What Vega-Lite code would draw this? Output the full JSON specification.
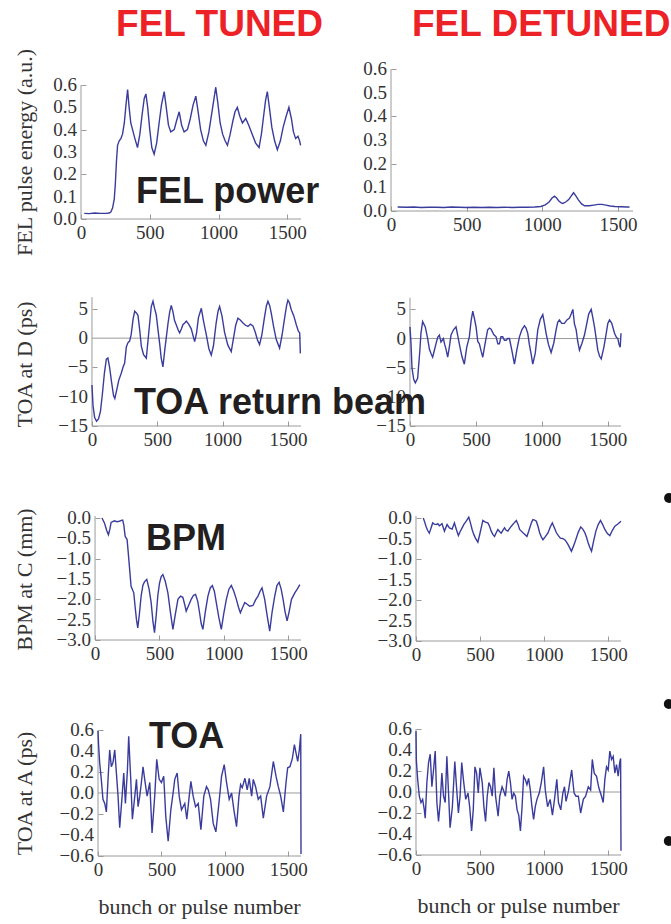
{
  "$schema": "https://vega.github.io/schema/vega-lite/v6.json",
  "background": "white",
  "padding": {"left": 12, "top": 5, "right": 0, "bottom": 4},
  "config": {
    "view": {"stroke": null},
    "axis": {
      "domain": false, "grid": false,
      "labelFont": "Liberation Serif", "labelFontSize": 19, "labelColor": "#333333",
      "titleFont": "Liberation Serif", "titleFontSize": 22, "titleFontWeight": "normal", "titleColor": "#333333",
      "tickColor": "#9a9a9a", "tickSize": -5, "labelPadding": 9, "labelFlush": false
    },
    "line": {"color": "#3a3c9d", "strokeWidth": 1.4},
    "rule": {"color": "#9a9a9a", "strokeWidth": 1},
    "text": {"font": "Liberation Sans", "fontWeight": "bold", "fontSize": 36, "color": "#231f20", "align": "left", "baseline": "alphabetic"}
  },
  "datasets": {
    "yl_fel": [{"v":0},{"v":0.1},{"v":0.2},{"v":0.3},{"v":0.4},{"v":0.5},{"v":0.6}],
    "yl_toad": [{"v":-15},{"v":-10},{"v":-5},{"v":0},{"v":5}],
    "yl_bpm": [{"v":-3},{"v":-2.5},{"v":-2},{"v":-1.5},{"v":-1},{"v":-0.5},{"v":0}],
    "yl_toaa": [{"v":-0.6},{"v":-0.4},{"v":-0.2},{"v":0},{"v":0.2},{"v":0.4},{"v":0.6}],
    "tl": [
      {"x":24,"y":0.025},{"x":60,"y":0.024},{"x":100,"y":0.027},{"x":140,"y":0.025},{"x":180,"y":0.025},{"x":206,"y":0.027},{"x":218,"y":0.032},{"x":230,"y":0.05},{"x":242,"y":0.09},{"x":250,"y":0.16},{"x":258,"y":0.26},{"x":266,"y":0.33},{"x":278,"y":0.35},{"x":290,"y":0.36},{"x":302,"y":0.38},{"x":315,"y":0.43},{"x":327,"y":0.51},{"x":339,"y":0.58},{"x":350,"y":0.5},{"x":362,"y":0.43},{"x":375,"y":0.4},{"x":392,"y":0.36},{"x":411,"y":0.32},{"x":428,"y":0.38},{"x":445,"y":0.47},{"x":460,"y":0.54},{"x":472,"y":0.56},{"x":485,"y":0.5},{"x":500,"y":0.4},{"x":515,"y":0.32},{"x":532,"y":0.29},{"x":550,"y":0.34},{"x":568,"y":0.43},{"x":585,"y":0.51},{"x":605,"y":0.57},{"x":620,"y":0.5},{"x":636,"y":0.42},{"x":653,"y":0.39},{"x":678,"y":0.4},{"x":695,"y":0.44},{"x":714,"y":0.48},{"x":732,"y":0.42},{"x":750,"y":0.39},{"x":774,"y":0.4},{"x":795,"y":0.45},{"x":815,"y":0.51},{"x":835,"y":0.55},{"x":852,"y":0.48},{"x":870,"y":0.4},{"x":890,"y":0.35},{"x":908,"y":0.33},{"x":930,"y":0.39},{"x":950,"y":0.47},{"x":965,"y":0.53},{"x":980,"y":0.59},{"x":995,"y":0.52},{"x":1012,"y":0.43},{"x":1030,"y":0.38},{"x":1048,"y":0.35},{"x":1065,"y":0.33},{"x":1085,"y":0.38},{"x":1105,"y":0.44},{"x":1120,"y":0.48},{"x":1137,"y":0.5},{"x":1155,"y":0.46},{"x":1174,"y":0.43},{"x":1198,"y":0.45},{"x":1220,"y":0.42},{"x":1245,"y":0.38},{"x":1270,"y":0.34},{"x":1295,"y":0.32},{"x":1312,"y":0.38},{"x":1328,"y":0.46},{"x":1342,"y":0.53},{"x":1355,"y":0.57},{"x":1370,"y":0.5},{"x":1388,"y":0.41},{"x":1408,"y":0.35},{"x":1428,"y":0.31},{"x":1450,"y":0.35},{"x":1470,"y":0.41},{"x":1492,"y":0.46},{"x":1512,"y":0.5},{"x":1530,"y":0.45},{"x":1545,"y":0.39},{"x":1561,"y":0.36},{"x":1578,"y":0.37},{"x":1590,"y":0.35},{"x":1597,"y":0.33}
    ],
    "tr": [
      {"x":44,"y":0.017},{"x":100,"y":0.016},{"x":150,"y":0.017},{"x":200,"y":0.015},{"x":250,"y":0.016},{"x":300,"y":0.016},{"x":350,"y":0.015},{"x":400,"y":0.017},{"x":450,"y":0.016},{"x":500,"y":0.015},{"x":550,"y":0.016},{"x":600,"y":0.015},{"x":650,"y":0.016},{"x":700,"y":0.015},{"x":750,"y":0.016},{"x":800,"y":0.015},{"x":850,"y":0.016},{"x":900,"y":0.016},{"x":950,"y":0.017},{"x":990,"y":0.019},{"x":1020,"y":0.026},{"x":1045,"y":0.038},{"x":1065,"y":0.055},{"x":1081,"y":0.063},{"x":1095,"y":0.055},{"x":1110,"y":0.042},{"x":1125,"y":0.034},{"x":1136,"y":0.032},{"x":1155,"y":0.038},{"x":1175,"y":0.048},{"x":1192,"y":0.064},{"x":1207,"y":0.077},{"x":1220,"y":0.066},{"x":1240,"y":0.046},{"x":1260,"y":0.03},{"x":1280,"y":0.022},{"x":1310,"y":0.022},{"x":1340,"y":0.025},{"x":1370,"y":0.028},{"x":1395,"y":0.028},{"x":1420,"y":0.025},{"x":1450,"y":0.021},{"x":1480,"y":0.019},{"x":1520,"y":0.018},{"x":1560,"y":0.017},{"x":1577,"y":0.017}
    ],
    "ml": [
      {"x":0,"y":-8},{"x":8,"y":-11.5},{"x":20,"y":-13.5},{"x":35,"y":-14.2},{"x":50,"y":-13.8},{"x":65,"y":-12.5},{"x":80,"y":-9.5},{"x":95,"y":-6},{"x":110,"y":-3.6},{"x":122,"y":-3.4},{"x":135,"y":-5},{"x":150,"y":-7.5},{"x":165,"y":-9.8},{"x":175,"y":-10.3},{"x":190,"y":-8.8},{"x":205,"y":-7.2},{"x":224,"y":-6},{"x":240,"y":-4.8},{"x":250,"y":-4.3},{"x":263,"y":-1.5},{"x":275,"y":-0.8},{"x":288,"y":-0.5},{"x":300,"y":0.6},{"x":315,"y":3.3},{"x":327,"y":4.6},{"x":340,"y":4.3},{"x":352,"y":3.9},{"x":365,"y":1.5},{"x":378,"y":-1.4},{"x":395,"y":-2.8},{"x":416,"y":-3.4},{"x":435,"y":1},{"x":454,"y":5.4},{"x":467,"y":6.3},{"x":480,"y":5},{"x":492,"y":4},{"x":505,"y":1.5},{"x":518,"y":-0.9},{"x":530,"y":-3.4},{"x":543,"y":-4.9},{"x":560,"y":-1.5},{"x":582,"y":2.5},{"x":595,"y":4.5},{"x":607,"y":5.6},{"x":620,"y":4.5},{"x":632,"y":3},{"x":645,"y":2.3},{"x":660,"y":1.4},{"x":671,"y":0.9},{"x":685,"y":1.6},{"x":696,"y":2.3},{"x":710,"y":2.6},{"x":722,"y":2.9},{"x":740,"y":2.4},{"x":760,"y":1.6},{"x":775,"y":0.3},{"x":786,"y":-0.6},{"x":800,"y":0.8},{"x":815,"y":3.5},{"x":837,"y":5.1},{"x":855,"y":2.8},{"x":875,"y":0.6},{"x":895,"y":-1.8},{"x":913,"y":-2.9},{"x":930,"y":-1.3},{"x":950,"y":2.5},{"x":965,"y":4.6},{"x":977,"y":5.4},{"x":995,"y":3.8},{"x":1015,"y":1},{"x":1040,"y":-1.2},{"x":1066,"y":-2.3},{"x":1085,"y":0.2},{"x":1100,"y":2.2},{"x":1117,"y":3.4},{"x":1135,"y":3.1},{"x":1156,"y":2.6},{"x":1175,"y":2.2},{"x":1194,"y":2},{"x":1213,"y":2.4},{"x":1232,"y":2.1},{"x":1250,"y":1},{"x":1267,"y":-0.3},{"x":1283,"y":-1.1},{"x":1300,"y":0.5},{"x":1320,"y":3.5},{"x":1335,"y":5.5},{"x":1347,"y":6.3},{"x":1360,"y":5.6},{"x":1372,"y":4.3},{"x":1390,"y":2},{"x":1410,"y":-0.2},{"x":1436,"y":-1.7},{"x":1455,"y":0.5},{"x":1475,"y":3.5},{"x":1490,"y":5.6},{"x":1500,"y":6.5},{"x":1512,"y":6},{"x":1525,"y":4.9},{"x":1545,"y":3.8},{"x":1564,"y":2.3},{"x":1580,"y":1.2},{"x":1590,"y":0.9},{"x":1595,"y":-2.6}
    ],
    "mr": [
      {"x":0,"y":2},{"x":8,"y":-1},{"x":15,"y":-5},{"x":28,"y":-7},{"x":40,"y":-7.6},{"x":58,"y":-6.8},{"x":75,"y":-2},{"x":83,"y":0.9},{"x":96,"y":2.9},{"x":116,"y":2},{"x":134,"y":0},{"x":147,"y":-1.8},{"x":160,"y":-2.6},{"x":172,"y":-3.2},{"x":185,"y":-2},{"x":197,"y":-0.9},{"x":210,"y":0.2},{"x":223,"y":0.6},{"x":235,"y":-0.6},{"x":253,"y":0},{"x":263,"y":-1},{"x":273,"y":-1.8},{"x":286,"y":-3.2},{"x":298,"y":-1.5},{"x":311,"y":0.6},{"x":330,"y":1.5},{"x":349,"y":2},{"x":362,"y":0.5},{"x":374,"y":-0.9},{"x":393,"y":-3},{"x":412,"y":-4.4},{"x":430,"y":-1.5},{"x":450,"y":0.3},{"x":463,"y":3},{"x":476,"y":4.7},{"x":488,"y":3.5},{"x":501,"y":2},{"x":514,"y":-0.5},{"x":526,"y":-0.9},{"x":540,"y":-2.2},{"x":552,"y":-3.2},{"x":570,"y":-0.8},{"x":589,"y":1.5},{"x":602,"y":1.8},{"x":615,"y":1.6},{"x":635,"y":0.7},{"x":653,"y":0.3},{"x":666,"y":-0.9},{"x":678,"y":-0.9},{"x":690,"y":0.3},{"x":703,"y":0.3},{"x":716,"y":-0.3},{"x":729,"y":-0.3},{"x":741,"y":0},{"x":754,"y":0},{"x":772,"y":-2},{"x":792,"y":-4.4},{"x":810,"y":-2},{"x":830,"y":0.3},{"x":848,"y":1.5},{"x":868,"y":2.2},{"x":880,"y":1.8},{"x":893,"y":0.9},{"x":905,"y":-1},{"x":918,"y":-2.6},{"x":931,"y":-4.4},{"x":950,"y":-2.5},{"x":969,"y":1.5},{"x":988,"y":3.3},{"x":1007,"y":4.1},{"x":1020,"y":2.5},{"x":1032,"y":0.9},{"x":1050,"y":-1},{"x":1070,"y":-2.4},{"x":1090,"y":-0.8},{"x":1108,"y":1.5},{"x":1120,"y":2.8},{"x":1133,"y":3.2},{"x":1150,"y":2.6},{"x":1171,"y":2.6},{"x":1190,"y":3.2},{"x":1209,"y":3.5},{"x":1222,"y":4.2},{"x":1235,"y":5},{"x":1247,"y":2.5},{"x":1260,"y":1.5},{"x":1272,"y":-0.5},{"x":1285,"y":-2},{"x":1304,"y":-0.8},{"x":1323,"y":0.6},{"x":1340,"y":2.5},{"x":1355,"y":4.2},{"x":1374,"y":5},{"x":1387,"y":3.5},{"x":1399,"y":2},{"x":1412,"y":0},{"x":1424,"y":-2},{"x":1437,"y":-3},{"x":1450,"y":-3.5},{"x":1470,"y":-1.5},{"x":1488,"y":0.9},{"x":1500,"y":2.6},{"x":1513,"y":3.2},{"x":1530,"y":2.6},{"x":1551,"y":0.9},{"x":1565,"y":0.2},{"x":1576,"y":0},{"x":1585,"y":-1},{"x":1594,"y":-1.5},{"x":1600,"y":0.9}
    ],
    "bl": [
      {"x":54,"y":0},{"x":73,"y":-0.12},{"x":90,"y":-0.3},{"x":104,"y":-0.41},{"x":115,"y":-0.28},{"x":125,"y":-0.11},{"x":150,"y":-0.07},{"x":170,"y":-0.09},{"x":189,"y":-0.08},{"x":205,"y":-0.06},{"x":215,"y":-0.05},{"x":223,"y":-0.16},{"x":234,"y":-0.45},{"x":249,"y":-0.53},{"x":258,"y":-0.85},{"x":267,"y":-1.19},{"x":280,"y":-1.68},{"x":301,"y":-1.84},{"x":311,"y":-2.17},{"x":322,"y":-2.5},{"x":332,"y":-2.7},{"x":345,"y":-2.35},{"x":358,"y":-1.92},{"x":372,"y":-1.65},{"x":384,"y":-1.57},{"x":402,"y":-1.51},{"x":420,"y":-1.75},{"x":436,"y":-2.08},{"x":450,"y":-2.55},{"x":462,"y":-2.82},{"x":475,"y":-2.4},{"x":488,"y":-1.9},{"x":501,"y":-1.6},{"x":514,"y":-1.44},{"x":527,"y":-1.39},{"x":545,"y":-1.55},{"x":566,"y":-1.84},{"x":585,"y":-2.3},{"x":605,"y":-2.74},{"x":622,"y":-2.4},{"x":644,"y":-2},{"x":664,"y":-1.92},{"x":682,"y":-1.95},{"x":696,"y":-2.12},{"x":708,"y":-2.29},{"x":727,"y":-2.15},{"x":747,"y":-2},{"x":765,"y":-1.9},{"x":781,"y":-1.88},{"x":798,"y":-2.05},{"x":812,"y":-2.33},{"x":825,"y":-2.6},{"x":838,"y":-2.74},{"x":857,"y":-2.3},{"x":877,"y":-1.92},{"x":895,"y":-1.72},{"x":911,"y":-1.66},{"x":927,"y":-1.8},{"x":942,"y":-2.08},{"x":962,"y":-2.45},{"x":981,"y":-2.74},{"x":1000,"y":-2.35},{"x":1020,"y":-2},{"x":1040,"y":-1.75},{"x":1059,"y":-1.66},{"x":1078,"y":-1.8},{"x":1098,"y":-2},{"x":1115,"y":-2.2},{"x":1129,"y":-2.33},{"x":1146,"y":-2.2},{"x":1163,"y":-2.08},{"x":1182,"y":-2.12},{"x":1201,"y":-2.17},{"x":1227,"y":-2.15},{"x":1246,"y":-2.02},{"x":1266,"y":-1.92},{"x":1282,"y":-1.8},{"x":1297,"y":-1.72},{"x":1318,"y":-2},{"x":1337,"y":-2.4},{"x":1357,"y":-2.78},{"x":1376,"y":-2.3},{"x":1396,"y":-1.92},{"x":1413,"y":-1.66},{"x":1430,"y":-1.58},{"x":1446,"y":-1.75},{"x":1461,"y":-2},{"x":1476,"y":-2.3},{"x":1492,"y":-2.53},{"x":1508,"y":-2.3},{"x":1526,"y":-2},{"x":1552,"y":-1.84},{"x":1572,"y":-1.74},{"x":1591,"y":-1.64}
    ],
    "br": [
      {"x":57,"y":0},{"x":68,"y":-0.1},{"x":78,"y":-0.2},{"x":90,"y":-0.3},{"x":104,"y":-0.37},{"x":117,"y":-0.25},{"x":130,"y":-0.12},{"x":143,"y":-0.15},{"x":157,"y":-0.16},{"x":170,"y":-0.14},{"x":183,"y":-0.19},{"x":203,"y":-0.14},{"x":222,"y":-0.32},{"x":243,"y":-0.16},{"x":261,"y":-0.24},{"x":282,"y":-0.27},{"x":300,"y":-0.12},{"x":315,"y":-0.28},{"x":331,"y":-0.43},{"x":345,"y":-0.33},{"x":360,"y":-0.24},{"x":375,"y":-0.15},{"x":391,"y":-0.08},{"x":412,"y":0.02},{"x":425,"y":-0.12},{"x":438,"y":-0.28},{"x":451,"y":-0.4},{"x":464,"y":-0.49},{"x":483,"y":-0.59},{"x":496,"y":-0.42},{"x":509,"y":-0.24},{"x":522,"y":-0.06},{"x":541,"y":-0.1},{"x":561,"y":-0.12},{"x":574,"y":-0.2},{"x":587,"y":-0.32},{"x":600,"y":-0.4},{"x":613,"y":-0.45},{"x":626,"y":-0.36},{"x":639,"y":-0.28},{"x":652,"y":-0.33},{"x":665,"y":-0.37},{"x":678,"y":-0.3},{"x":691,"y":-0.24},{"x":704,"y":-0.3},{"x":717,"y":-0.32},{"x":730,"y":-0.26},{"x":744,"y":-0.2},{"x":763,"y":-0.13},{"x":783,"y":-0.06},{"x":796,"y":-0.15},{"x":809,"y":-0.28},{"x":822,"y":-0.32},{"x":835,"y":-0.36},{"x":850,"y":-0.4},{"x":866,"y":-0.45},{"x":879,"y":-0.33},{"x":892,"y":-0.2},{"x":903,"y":-0.1},{"x":913,"y":-0.04},{"x":926,"y":-0.05},{"x":939,"y":-0.08},{"x":952,"y":-0.2},{"x":965,"y":-0.36},{"x":978,"y":-0.46},{"x":991,"y":-0.53},{"x":1011,"y":-0.45},{"x":1031,"y":-0.36},{"x":1048,"y":-0.22},{"x":1064,"y":-0.12},{"x":1080,"y":-0.24},{"x":1096,"y":-0.36},{"x":1111,"y":-0.43},{"x":1127,"y":-0.49},{"x":1144,"y":-0.5},{"x":1161,"y":-0.53},{"x":1174,"y":-0.58},{"x":1187,"y":-0.65},{"x":1200,"y":-0.73},{"x":1213,"y":-0.81},{"x":1230,"y":-0.68},{"x":1247,"y":-0.53},{"x":1266,"y":-0.35},{"x":1286,"y":-0.22},{"x":1302,"y":-0.27},{"x":1318,"y":-0.36},{"x":1331,"y":-0.47},{"x":1344,"y":-0.61},{"x":1357,"y":-0.72},{"x":1370,"y":-0.81},{"x":1387,"y":-0.55},{"x":1404,"y":-0.32},{"x":1422,"y":-0.16},{"x":1440,"y":-0.06},{"x":1457,"y":-0.16},{"x":1474,"y":-0.28},{"x":1494,"y":-0.38},{"x":1513,"y":-0.43},{"x":1533,"y":-0.3},{"x":1552,"y":-0.2},{"x":1578,"y":-0.14},{"x":1600,"y":-0.08}
    ],
    "ta": [
      {"x":0,"y":0.59},{"x":5,"y":0.45},{"x":13,"y":0.29},{"x":26,"y":0.13},{"x":39,"y":-0.06},{"x":53,"y":-0.1},{"x":66,"y":-0.18},{"x":79,"y":0.13},{"x":92,"y":0.41},{"x":105,"y":0.25},{"x":118,"y":0.29},{"x":132,"y":0.41},{"x":145,"y":0.19},{"x":158,"y":-0.03},{"x":171,"y":-0.33},{"x":190,"y":-0.03},{"x":203,"y":0.19},{"x":216,"y":-0.1},{"x":232,"y":0.22},{"x":242,"y":0.54},{"x":258,"y":0.13},{"x":271,"y":-0.25},{"x":290,"y":-0.03},{"x":303,"y":0.13},{"x":316,"y":-0.13},{"x":329,"y":-0.03},{"x":342,"y":0.1},{"x":355,"y":0.25},{"x":368,"y":0.13},{"x":387,"y":-0.03},{"x":408,"y":0.1},{"x":426,"y":-0.38},{"x":447,"y":-0.03},{"x":463,"y":0.32},{"x":482,"y":0.13},{"x":500,"y":0.1},{"x":518,"y":0.16},{"x":534,"y":-0.22},{"x":553,"y":-0.46},{"x":574,"y":-0.16},{"x":592,"y":0},{"x":605,"y":0.13},{"x":624,"y":0.19},{"x":640,"y":-0.03},{"x":658,"y":-0.16},{"x":684,"y":-0.1},{"x":700,"y":-0.25},{"x":719,"y":-0.03},{"x":732,"y":0.11},{"x":750,"y":-0.03},{"x":769,"y":-0.13},{"x":790,"y":-0.1},{"x":811,"y":-0.35},{"x":834,"y":-0.03},{"x":855,"y":0.06},{"x":869,"y":0.03},{"x":887,"y":-0.06},{"x":908,"y":-0.29},{"x":929,"y":-0.37},{"x":953,"y":-0.1},{"x":974,"y":0.16},{"x":995,"y":0.27},{"x":1013,"y":0.1},{"x":1034,"y":-0.06},{"x":1053,"y":0},{"x":1071,"y":-0.16},{"x":1092,"y":-0.32},{"x":1111,"y":-0.03},{"x":1124,"y":0.08},{"x":1137,"y":0.05},{"x":1158,"y":0.14},{"x":1176,"y":0.03},{"x":1192,"y":0.14},{"x":1211,"y":-0.03},{"x":1224,"y":0.13},{"x":1242,"y":0.06},{"x":1263,"y":-0.06},{"x":1282,"y":-0.03},{"x":1303,"y":-0.24},{"x":1329,"y":-0.03},{"x":1355,"y":0.06},{"x":1382,"y":0.3},{"x":1403,"y":0.16},{"x":1421,"y":0.06},{"x":1440,"y":-0.03},{"x":1461,"y":-0.18},{"x":1482,"y":0.1},{"x":1495,"y":0.24},{"x":1513,"y":0.25},{"x":1532,"y":0.33},{"x":1548,"y":0.46},{"x":1561,"y":0.38},{"x":1574,"y":0.3},{"x":1587,"y":0.41},{"x":1598,"y":0.56},{"x":1600,"y":-0.58}
    ],
    "tb": [
      {"x":0,"y":0.58},{"x":3,"y":0.3},{"x":13,"y":0.12},{"x":26,"y":-0.04},{"x":39,"y":-0.1},{"x":52,"y":-0.07},{"x":65,"y":-0.17},{"x":72,"y":-0.25},{"x":85,"y":0.09},{"x":98,"y":0.28},{"x":111,"y":0.36},{"x":124,"y":0.05},{"x":137,"y":0.21},{"x":150,"y":0.39},{"x":163,"y":-0.1},{"x":176,"y":-0.28},{"x":189,"y":-0.1},{"x":202,"y":0.18},{"x":215,"y":-0.04},{"x":228,"y":-0.1},{"x":241,"y":0.34},{"x":253,"y":0.02},{"x":266,"y":-0.34},{"x":284,"y":-0.14},{"x":303,"y":0.29},{"x":318,"y":0.02},{"x":331,"y":-0.2},{"x":344,"y":-0.04},{"x":357,"y":0.28},{"x":370,"y":0.12},{"x":388,"y":-0.07},{"x":406,"y":-0.01},{"x":419,"y":-0.14},{"x":434,"y":-0.37},{"x":447,"y":-0.17},{"x":460,"y":0.24},{"x":473,"y":0.18},{"x":486,"y":-0.01},{"x":499,"y":0.23},{"x":517,"y":0.09},{"x":530,"y":-0.14},{"x":543,"y":-0.28},{"x":556,"y":-0.04},{"x":569,"y":0.09},{"x":582,"y":0.05},{"x":595,"y":-0.04},{"x":608,"y":0.23},{"x":621,"y":-0.04},{"x":641,"y":-0.23},{"x":654,"y":-0.04},{"x":672,"y":0.05},{"x":685,"y":0.01},{"x":698,"y":-0.04},{"x":711,"y":0.12},{"x":724,"y":0.2},{"x":737,"y":0.09},{"x":750,"y":-0.07},{"x":763,"y":-0.01},{"x":776,"y":-0.04},{"x":789,"y":-0.17},{"x":802,"y":-0.22},{"x":815,"y":-0.37},{"x":828,"y":-0.14},{"x":840,"y":0.15},{"x":853,"y":0.12},{"x":866,"y":0.07},{"x":879,"y":0.13},{"x":892,"y":0.02},{"x":905,"y":-0.14},{"x":918,"y":-0.26},{"x":931,"y":-0.14},{"x":944,"y":-0.07},{"x":962,"y":-0.01},{"x":978,"y":0.09},{"x":996,"y":0.24},{"x":1009,"y":0.02},{"x":1027,"y":-0.14},{"x":1047,"y":-0.07},{"x":1065,"y":-0.22},{"x":1081,"y":-0.07},{"x":1099,"y":0.12},{"x":1112,"y":-0.1},{"x":1130,"y":-0.17},{"x":1146,"y":-0.01},{"x":1159,"y":0.05},{"x":1171,"y":-0.09},{"x":1190,"y":0.01},{"x":1215,"y":0.21},{"x":1234,"y":-0.01},{"x":1249,"y":-0.04},{"x":1267,"y":-0.04},{"x":1285,"y":-0.2},{"x":1306,"y":-0.07},{"x":1324,"y":-0.04},{"x":1345,"y":0.05},{"x":1363,"y":0.02},{"x":1376,"y":0.31},{"x":1391,"y":0.18},{"x":1409,"y":0.15},{"x":1427,"y":0.04},{"x":1448,"y":-0.04},{"x":1461,"y":-0.1},{"x":1474,"y":0.12},{"x":1487,"y":0.24},{"x":1500,"y":0.21},{"x":1513,"y":0.39},{"x":1526,"y":0.31},{"x":1539,"y":0.34},{"x":1552,"y":0.18},{"x":1565,"y":0.26},{"x":1578,"y":0.15},{"x":1591,"y":0.29},{"x":1597,"y":0.32},{"x":1600,"y":-0.56}
    ]
  },
  "columns": 2,
  "bounds": "flush",
  "align": "each",
  "spacing": {"row": 77, "column": 90},
  "concat": [
    {
      "width": 220, "height": 150,
      "layer": [
        {"data": {"values": [{}]}, "mark": "rule", "encoding": {"x": {"datum": 0}, "y": {"datum": 0}, "y2": {"datum": 0.6}}},
        {"data": {"values": [{}]}, "mark": "rule", "encoding": {"y": {"datum": 0}, "x": {"datum": 0}, "x2": {"datum": 1600}}},
        {"data": {"name": "tl"}, "mark": "line",
         "encoding": {
           "x": {"field": "x", "type": "quantitative", "scale": {"domain": [0, 1600], "nice": false, "zero": false},
                 "axis": {"title": null, "values": [0, 500, 1000, 1500], "format": "d"}},
           "y": {"field": "y", "type": "quantitative", "scale": {"domain": [0, 0.6716], "nice": false, "zero": false},
                 "axis": {"title": "FEL pulse energy (a.u.)", "titleX": -50, "titleY": 83, "titleAngle": 270, "titleAlign": "center", "titleBaseline": "alphabetic",
                          "values": [0, 0.1, 0.2, 0.3, 0.4, 0.5, 0.6], "labels": false}}
         }},
        {"data": {"name": "yl_fel"}, "mark": {"type": "text", "font": "Liberation Serif", "fontWeight": "normal", "fontSize": 19, "color": "#333333", "align": "right", "baseline": "middle", "dx": -4},
         "encoding": {"x": {"datum": 0}, "y": {"field": "v", "type": "quantitative"}, "text": {"field": "v", "type": "quantitative", "format": ".1f"}}},
        {"data": {"values": [{"label": "FEL power"}]}, "mark": {"type": "text"},
         "encoding": {"x": {"datum": 400}, "y": {"datum": 0.0717}, "text": {"field": "label"}}},
        {"data": {"values": [{"label": "FEL TUNED"}]}, "mark": {"type": "text", "fontSize": 37, "color": "#ec2227"},
         "encoding": {"x": {"datum": 255}, "y": {"datum": 0.8194}, "text": {"field": "label"}}}
      ]
    },
    {
      "width": 242, "height": 142,
      "layer": [
        {"data": {"values": [{}]}, "mark": "rule", "encoding": {"x": {"datum": 0}, "y": {"datum": 0}, "y2": {"datum": 0.6}}},
        {"data": {"values": [{}]}, "mark": "rule", "encoding": {"y": {"datum": 0}, "x": {"datum": 0}, "x2": {"datum": 1600}}},
        {"data": {"name": "tr"}, "mark": "line",
         "encoding": {
           "x": {"field": "x", "type": "quantitative", "scale": {"domain": [0, 1600], "nice": false, "zero": false},
                 "axis": {"title": null, "values": [0, 500, 1000, 1500], "format": "d"}},
           "y": {"field": "y", "type": "quantitative", "scale": {"domain": [0, 0.6], "nice": false, "zero": false},
                 "axis": {"title": null, "values": [0, 0.1, 0.2, 0.3, 0.4, 0.5, 0.6], "labels": false}}
         }},
        {"data": {"name": "yl_fel"}, "mark": {"type": "text", "font": "Liberation Serif", "fontWeight": "normal", "fontSize": 19, "color": "#333333", "align": "right", "baseline": "middle", "dx": -4},
         "encoding": {"x": {"datum": 0}, "y": {"field": "v", "type": "quantitative"}, "text": {"field": "v", "type": "quantitative", "format": ".1f"}}},
        {"data": {"values": [{"label": "FEL DETUNED"}]}, "mark": {"type": "text", "fontSize": 37, "color": "#ec2227"},
         "encoding": {"x": {"datum": 139}, "y": {"datum": 0.7394}, "text": {"field": "label"}}}
      ]
    },
    {
      "width": 220, "height": 130,
      "layer": [
        {"data": {"values": [{}]}, "mark": "rule", "encoding": {"x": {"datum": 0}, "y": {"datum": -15}, "y2": {"datum": 7}}},
        {"data": {"values": [{}]}, "mark": "rule", "encoding": {"y": {"datum": -15}, "x": {"datum": 0}, "x2": {"datum": 1600}}},
        {"data": {"values": [{}]}, "mark": "rule", "encoding": {"y": {"datum": 0}, "x": {"datum": 0}, "x2": {"datum": 1600}}},
        {"data": {"name": "ml"}, "mark": "line",
         "encoding": {
           "x": {"field": "x", "type": "quantitative", "scale": {"domain": [-84, 1600], "nice": false, "zero": false},
                 "axis": {"title": null, "values": [0, 500, 1000, 1500], "format": "d"}},
           "y": {"field": "y", "type": "quantitative", "scale": {"domain": [-15, 7.2], "nice": false, "zero": false},
                 "axis": {"offset": -11, "title": "TOA at D (ps)", "titleX": -61, "titleY": 68, "titleAngle": 270, "titleAlign": "center", "titleBaseline": "alphabetic",
                          "values": [-15, -10, -5, 0, 5], "labels": false}}
         }},
        {"data": {"name": "yl_toad"}, "mark": {"type": "text", "font": "Liberation Serif", "fontWeight": "normal", "fontSize": 19, "color": "#333333", "align": "right", "baseline": "middle", "dx": -4},
         "encoding": {"x": {"datum": 0}, "y": {"field": "v", "type": "quantitative"}, "text": {"field": "v", "type": "quantitative", "format": "d"}}}
      ]
    },
    {
      "width": 230, "height": 130,
      "layer": [
        {"data": {"values": [{}]}, "mark": "rule", "encoding": {"x": {"datum": 0}, "y": {"datum": -15}, "y2": {"datum": 7}}},
        {"data": {"values": [{}]}, "mark": "rule", "encoding": {"y": {"datum": -15}, "x": {"datum": 0}, "x2": {"datum": 1600}}},
        {"data": {"values": [{}]}, "mark": "rule", "encoding": {"y": {"datum": 0}, "x": {"datum": 0}, "x2": {"datum": 1600}}},
        {"data": {"name": "mr"}, "mark": "line",
         "encoding": {
           "x": {"field": "x", "type": "quantitative", "scale": {"domain": [-144, 1600], "nice": false, "zero": false},
                 "axis": {"title": null, "values": [0, 500, 1000, 1500], "format": "d"}},
           "y": {"field": "y", "type": "quantitative", "scale": {"domain": [-15, 7.3], "nice": false, "zero": false},
                 "axis": {"offset": -19, "title": null, "values": [-15, -10, -5, 0, 5], "labels": false}}
         }},
        {"data": {"name": "yl_toad"}, "mark": {"type": "text", "font": "Liberation Serif", "fontWeight": "normal", "fontSize": 19, "color": "#333333", "align": "right", "baseline": "middle", "dx": -4},
         "encoding": {"x": {"datum": 0}, "y": {"field": "v", "type": "quantitative"}, "text": {"field": "v", "type": "quantitative", "format": "d"}}},
        {"data": {"values": [{"label": "TOA return beam"}]}, "mark": {"type": "text"},
         "encoding": {"x": {"datum": -2093}, "y": {"datum": -12.94}, "text": {"field": "label"}}}
      ]
    },
    {
      "width": 220, "height": 137,
      "layer": [
        {"data": {"values": [{}]}, "mark": "rule", "encoding": {"x": {"datum": 0}, "y": {"datum": -3}, "y2": {"datum": 0.05}}},
        {"data": {"values": [{}]}, "mark": "rule", "encoding": {"y": {"datum": -3}, "x": {"datum": 0}, "x2": {"datum": 1600}}},
        {"data": {"name": "bl"}, "mark": "line",
         "encoding": {
           "x": {"field": "x", "type": "quantitative", "scale": {"domain": [-109, 1600], "nice": false, "zero": false},
                 "axis": {"title": null, "values": [0, 500, 1000, 1500], "format": "d"}},
           "y": {"field": "y", "type": "quantitative", "scale": {"domain": [-3, 0.369], "nice": false, "zero": false},
                 "axis": {"offset": -14, "title": "BPM at C (mm)", "titleX": -64, "titleY": 76, "titleAngle": 270, "titleAlign": "center", "titleBaseline": "alphabetic",
                          "values": [-3, -2.5, -2, -1.5, -1, -0.5, 0], "labels": false}}
         }},
        {"data": {"name": "yl_bpm"}, "mark": {"type": "text", "font": "Liberation Serif", "fontWeight": "normal", "fontSize": 19, "color": "#333333", "align": "right", "baseline": "middle", "dx": -4},
         "encoding": {"x": {"datum": 0}, "y": {"field": "v", "type": "quantitative"}, "text": {"field": "v", "type": "quantitative", "format": ".1f"}}},
        {"data": {"values": [{"label": "BPM"}]}, "mark": {"type": "text"},
         "encoding": {"x": {"datum": 396}, "y": {"datum": -0.787}, "text": {"field": "label"}}}
      ]
    },
    {
      "width": 230, "height": 138,
      "layer": [
        {"data": {"values": [{}]}, "mark": "rule", "encoding": {"x": {"datum": 0}, "y": {"datum": -3}, "y2": {"datum": 0.05}}},
        {"data": {"values": [{}]}, "mark": "rule", "encoding": {"y": {"datum": -3}, "x": {"datum": 0}, "x2": {"datum": 1600}}},
        {"data": {"name": "br"}, "mark": "line",
         "encoding": {
           "x": {"field": "x", "type": "quantitative", "scale": {"domain": [-195, 1600], "nice": false, "zero": false},
                 "axis": {"title": null, "values": [0, 500, 1000, 1500], "format": "d"}},
           "y": {"field": "y", "type": "quantitative", "scale": {"domain": [-3, 0.366], "nice": false, "zero": false},
                 "axis": {"offset": -25, "title": null, "values": [-3, -2.5, -2, -1.5, -1, -0.5, 0], "labels": false}}
         }},
        {"data": {"name": "yl_bpm"}, "mark": {"type": "text", "font": "Liberation Serif", "fontWeight": "normal", "fontSize": 19, "color": "#333333", "align": "right", "baseline": "middle", "dx": -4},
         "encoding": {"x": {"datum": 0}, "y": {"field": "v", "type": "quantitative"}, "text": {"field": "v", "type": "quantitative", "format": ".1f"}}},
        {"data": {"values": [{"item": "bullet"}]}, "mark": {"type": "point", "filled": true, "color": "#111111", "opacity": 1, "size": 100},
         "encoding": {"x": {"datum": 1975}, "y": {"datum": 0.49}}}
      ]
    },
    {
      "width": 220, "height": 138,
      "layer": [
        {"data": {"values": [{}]}, "mark": "rule", "encoding": {"x": {"datum": 0}, "y": {"datum": -0.6}, "y2": {"datum": 0.6}}},
        {"data": {"values": [{}]}, "mark": "rule", "encoding": {"y": {"datum": -0.6}, "x": {"datum": 0}, "x2": {"datum": 1600}}},
        {"data": {"values": [{}]}, "mark": "rule", "encoding": {"y": {"datum": 0}, "x": {"datum": 0}, "x2": {"datum": 1600}}},
        {"data": {"name": "ta"}, "mark": "line",
         "encoding": {
           "x": {"field": "x", "type": "quantitative", "scale": {"domain": [-134, 1600], "nice": false, "zero": false},
                 "axis": {"title": "bunch or pulse number", "titleX": 118, "titleY": 57, "titleAlign": "center", "titleBaseline": "alphabetic",
                          "values": [0, 500, 1000, 1500], "format": "d"}},
           "y": {"field": "y", "type": "quantitative", "scale": {"domain": [-0.6, 0.714], "nice": false, "zero": false},
                 "axis": {"offset": -17, "title": "TOA at A (ps)", "titleX": -67, "titleY": 75, "titleAngle": 270, "titleAlign": "center", "titleBaseline": "alphabetic",
                          "values": [-0.6, -0.4, -0.2, 0, 0.2, 0.4, 0.6], "labels": false}}
         }},
        {"data": {"name": "yl_toaa"}, "mark": {"type": "text", "font": "Liberation Serif", "fontWeight": "normal", "fontSize": 19, "color": "#333333", "align": "right", "baseline": "middle", "dx": -4},
         "encoding": {"x": {"datum": 0}, "y": {"field": "v", "type": "quantitative"}, "text": {"field": "v", "type": "quantitative", "format": ".1f"}}},
        {"data": {"values": [{"label": "TOA"}]}, "mark": {"type": "text"},
         "encoding": {"x": {"datum": 402}, "y": {"datum": 0.429}, "text": {"field": "label"}}}
      ]
    },
    {
      "width": 230, "height": 137,
      "layer": [
        {"data": {"values": [{}]}, "mark": "rule", "encoding": {"x": {"datum": 0}, "y": {"datum": -0.6}, "y2": {"datum": 0.6}}},
        {"data": {"values": [{}]}, "mark": "rule", "encoding": {"y": {"datum": -0.6}, "x": {"datum": 0}, "x2": {"datum": 1600}}},
        {"data": {"values": [{}]}, "mark": "rule", "encoding": {"y": {"datum": 0}, "x": {"datum": 0}, "x2": {"datum": 1600}}},
        {"data": {"name": "tb"}, "mark": "line",
         "encoding": {
           "x": {"field": "x", "type": "quantitative", "scale": {"domain": [-195, 1600], "nice": false, "zero": false},
                 "axis": {"title": "bunch or pulse number", "titleX": 127, "titleY": 57, "titleAlign": "center", "titleBaseline": "alphabetic",
                          "values": [0, 500, 1000, 1500], "format": "d"}},
           "y": {"field": "y", "type": "quantitative", "scale": {"domain": [-0.6, 0.705], "nice": false, "zero": false},
                 "axis": {"offset": -25, "title": null, "values": [-0.6, -0.4, -0.2, 0, 0.2, 0.4, 0.6], "labels": false}}
         }},
        {"data": {"name": "yl_toaa"}, "mark": {"type": "text", "font": "Liberation Serif", "fontWeight": "normal", "fontSize": 19, "color": "#333333", "align": "right", "baseline": "middle", "dx": -4},
         "encoding": {"x": {"datum": 0}, "y": {"field": "v", "type": "quantitative"}, "text": {"field": "v", "type": "quantitative", "format": ".1f"}}},
        {"data": {"values": [{"item": "bullet"}]}, "mark": {"type": "point", "filled": true, "color": "#111111", "opacity": 1, "size": 100},
         "encoding": {"x": {"datum": 1973}, "y": {"datum": 0.838}}},
        {"data": {"values": [{"item": "bullet"}]}, "mark": {"type": "point", "filled": true, "color": "#111111", "opacity": 1, "size": 100},
         "encoding": {"x": {"datum": 1973}, "y": {"datum": -0.467}}}
      ]
    }
  ]
}
